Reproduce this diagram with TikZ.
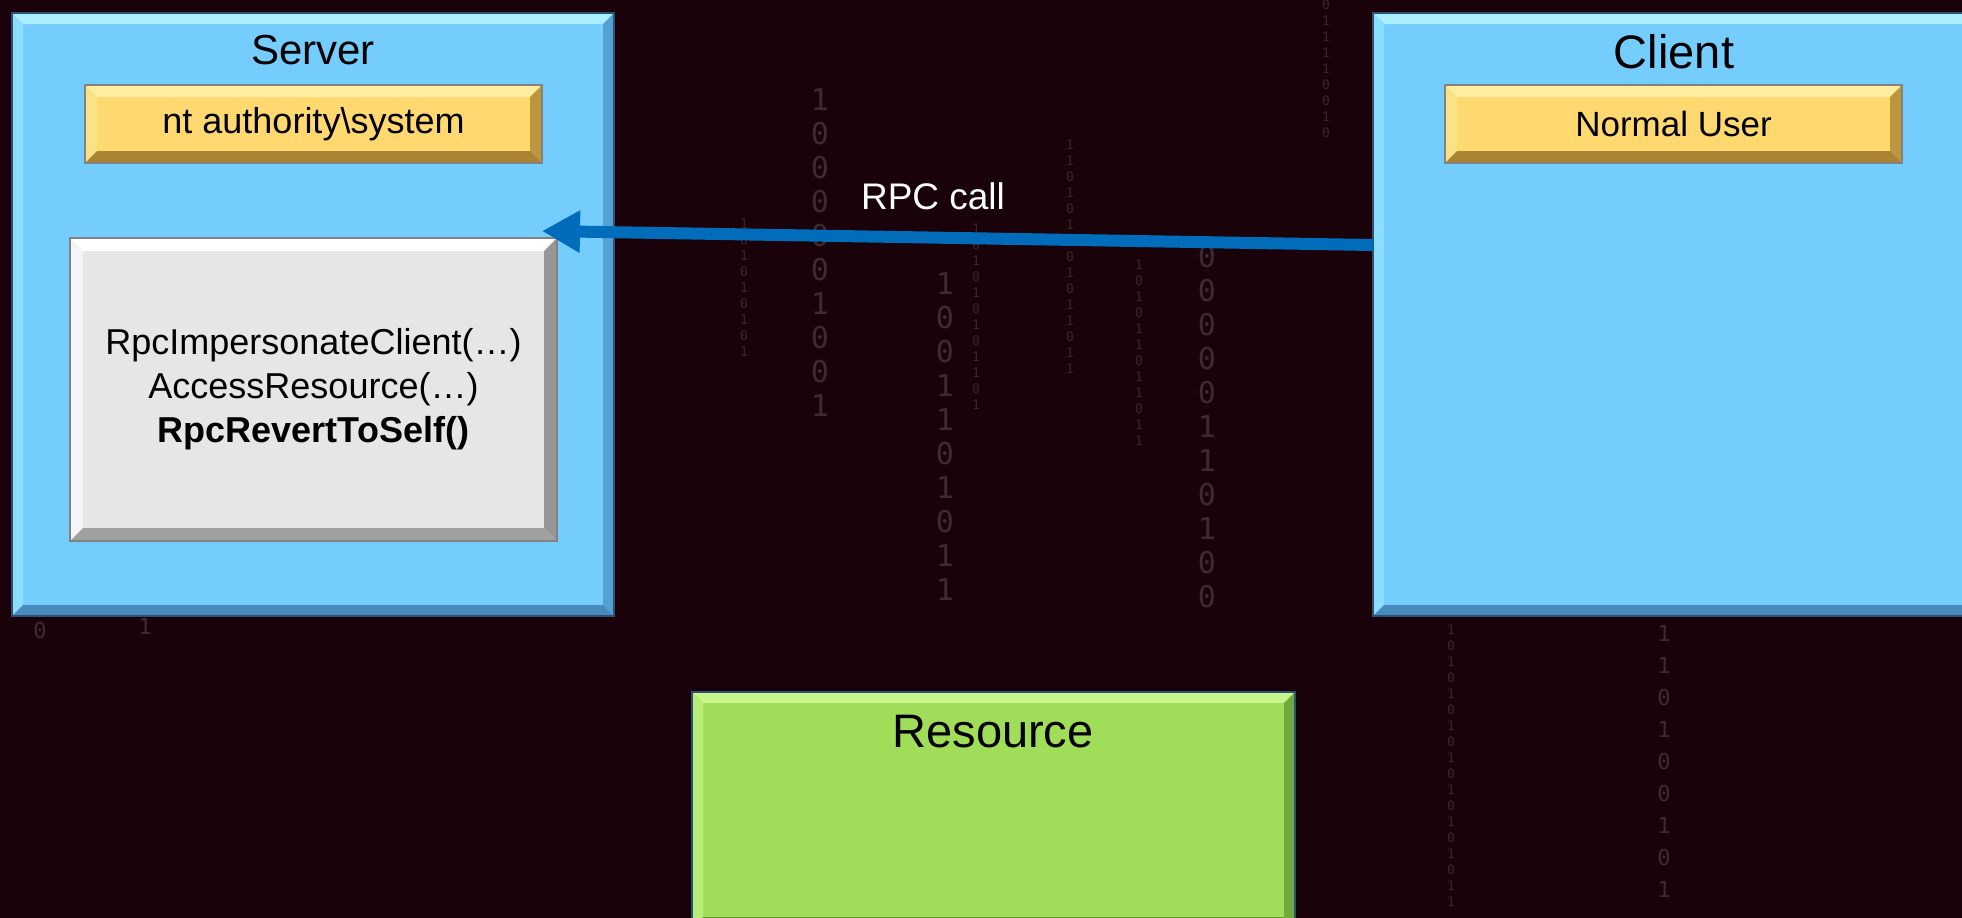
\documentclass[tikz,border=0pt]{standalone}
\usepackage{fontspec}
\setmainfont{Liberation Sans}
\newfontfamily\digitfont{DejaVu Sans Mono}
\usetikzlibrary{arrows.meta}
\definecolor{bgdark}{RGB}{26,2,10}
\definecolor{skyfill}{RGB}{117,205,253}
\definecolor{skytop}{RGB}{170,238,255}
\definecolor{skyleft}{RGB}{140,222,255}
\definecolor{skyright}{RGB}{85,160,210}
\definecolor{skybot}{RGB}{72,140,190}
\definecolor{goldfill}{RGB}{255,217,112}
\definecolor{goldtop}{RGB}{255,238,160}
\definecolor{goldleft}{RGB}{250,226,135}
\definecolor{goldright}{RGB}{190,150,62}
\definecolor{goldbot}{RGB}{170,130,52}
\definecolor{grayfill}{RGB}{230,230,230}
\definecolor{graytop}{RGB}{255,255,255}
\definecolor{grayleft}{RGB}{245,245,245}
\definecolor{grayright}{RGB}{150,150,150}
\definecolor{graybot}{RGB}{160,160,160}
\definecolor{limefill}{RGB}{160,222,90}
\definecolor{limetop}{RGB}{200,246,140}
\definecolor{limeleft}{RGB}{182,236,120}
\definecolor{limeright}{RGB}{112,170,60}
\definecolor{limebot}{RGB}{100,150,50}
\definecolor{rpcblue}{RGB}{0,108,186}
\definecolor{edgeblue}{RGB}{45,80,115}
\definecolor{edgegray}{RGB}{130,130,130}
\newcommand\bevelbox[7]{%
  \fill[#3] (#1.north west) -- (#1.north east) -- ([shift={(-#2,-#2)}]#1.north east) -- ([shift={(#2,-#2)}]#1.north west) -- cycle;
  \fill[#4] (#1.north west) -- ([shift={(#2,-#2)}]#1.north west) -- ([shift={(#2,#2)}]#1.south west) -- (#1.south west) -- cycle;
  \fill[#5] (#1.north east) -- ([shift={(-#2,-#2)}]#1.north east) -- ([shift={(-#2,#2)}]#1.south east) -- (#1.south east) -- cycle;
  \fill[#6] (#1.south west) -- ([shift={(#2,#2)}]#1.south west) -- ([shift={(-#2,#2)}]#1.south east) -- (#1.south east) -- cycle;
  \draw[#7, line width=1.2pt] (#1.north west) rectangle (#1.south east);
}
\begin{document}
\begin{tikzpicture}[x=1pt,y=-1pt,
  box/.style={rectangle, inner sep=0pt, outer sep=0pt, anchor=north west},
  bigdigit/.style={anchor=north, align=center, inner sep=0pt, text=white, text opacity=0.16, font=\digitfont\fontsize{30}{34}\selectfont},
  middigit/.style={bigdigit, font=\digitfont\fontsize{22}{32}\selectfont},
  smalldigit/.style={anchor=north, align=center, inner sep=0pt, text=white, text opacity=0.14, font=\digitfont\fontsize{13}{16}\selectfont},
  titletext/.style={inner sep=0pt, text=black},
  acct/.style={box, fill=goldfill, minimum width=457pt, minimum height=78pt},
  rpcarrow/.style={draw=rpcblue, line width=12pt, -{Triangle[length=38pt,width=40pt]}}]
\useasboundingbox (0,0) rectangle (1962,918);
\clip (0,0) rectangle (1962,918);
\fill[bgdark] (0,0) rectangle (1962,918);

% background binary texture
\node[smalldigit] (b1) at (744,219) {1\\0\\1\\0\\1\\0\\1\\0\\1};
\node[bigdigit] (b3) at (820,88) {1\\0\\0\\0\\0\\0\\1\\0\\0\\1};
\node[bigdigit] (b4) at (945,272) {1\\0\\0\\1\\1\\0\\1\\0\\1\\1};
\node[smalldigit] (b5) at (976,224) {1\\0\\1\\0\\1\\0\\1\\0\\1\\1\\0\\1};
\node[smalldigit] (b6) at (1070,140) {1\\1\\0\\1\\0\\1\\1\\0\\1\\0\\1\\1\\0\\1\\1};
\node[smalldigit] (b7) at (1139,260) {1\\0\\1\\0\\1\\1\\0\\1\\1\\0\\1\\1};
\node[bigdigit] (b8) at (1207,245) {0\\0\\0\\0\\0\\1\\1\\0\\1\\0\\0};
\node[smalldigit] (b9) at (1326,0) {0\\1\\1\\1\\1\\0\\0\\1\\0};
\node[smalldigit] (b10) at (1451,625) {1\\0\\1\\0\\1\\0\\1\\0\\1\\0\\1\\0\\1\\0\\1\\0\\1\\1};
\node[middigit] (b11) at (1664,625) {1\\1\\0\\1\\0\\0\\1\\0\\1};
\node[middigit] (b12) at (40,622) {0};
\node[middigit] (b13) at (145,618) {1};

% Server
\node[box, fill=skyfill, minimum width=602pt, minimum height=603pt] (server) at (12,13) {};
\bevelbox{server}{11pt}{skytop}{skyleft}{skyright}{skybot}{edgeblue}
\node[titletext, font=\fontsize{42}{50}\selectfont] (servertitle) at (313,50) {Server};
\node[acct] (srvacct) at (85,85) {};
\bevelbox{srvacct}{12pt}{goldtop}{goldleft}{goldright}{goldbot}{edgegray}
\node[titletext, font=\fontsize{36}{43}\selectfont] (srvacctlabel) at (srvacct.center) {nt authority\textbackslash system};
\node[box, fill=grayfill, minimum width=487pt, minimum height=303pt] (code) at (70,238) {};
\bevelbox{code}{13pt}{graytop}{grayleft}{grayright}{graybot}{edgegray}
\node[titletext, align=center, font=\fontsize{36}{44}\selectfont] (codetext) at (code.center) {RpcImpersonateClient(…)\\AccessResource(…)\\\textbf{RpcRevertToSelf()}};

% Client
\node[box, fill=skyfill, minimum width=602pt, minimum height=603pt] (client) at (1373,13) {};
\bevelbox{client}{11pt}{skytop}{skyleft}{skyright}{skybot}{edgeblue}
\node[titletext, font=\fontsize{47}{56}\selectfont] (clienttitle) at (1674,52) {Client};
\node[acct] (cliacct) at (1445,85) {};
\bevelbox{cliacct}{12pt}{goldtop}{goldleft}{goldright}{goldbot}{edgegray}
\node[titletext, font=\fontsize{35}{42}\selectfont] (cliacctlabel) at (cliacct.center) {Normal User};

% Resource
\node[box, fill=limefill, minimum width=603pt, minimum height=236pt] (resource) at (692,692) {};
\bevelbox{resource}{11pt}{limetop}{limeleft}{limeright}{limebot}{edgeblue}
\node[titletext, font=\fontsize{47}{56}\selectfont] (resourcetitle) at (993,732) {Resource};

% RPC call arrow
\coordinate (rpcstart) at ([yshift=-232pt]client.north west);
\coordinate (rpcend) at (542,231);
\draw[rpcarrow] (rpcstart) -- (rpcend);
\node[titletext, text=white, font=\fontsize{37}{44}\selectfont] (rpclabel) at (933,196) {RPC call};
\end{tikzpicture}
\end{document}
